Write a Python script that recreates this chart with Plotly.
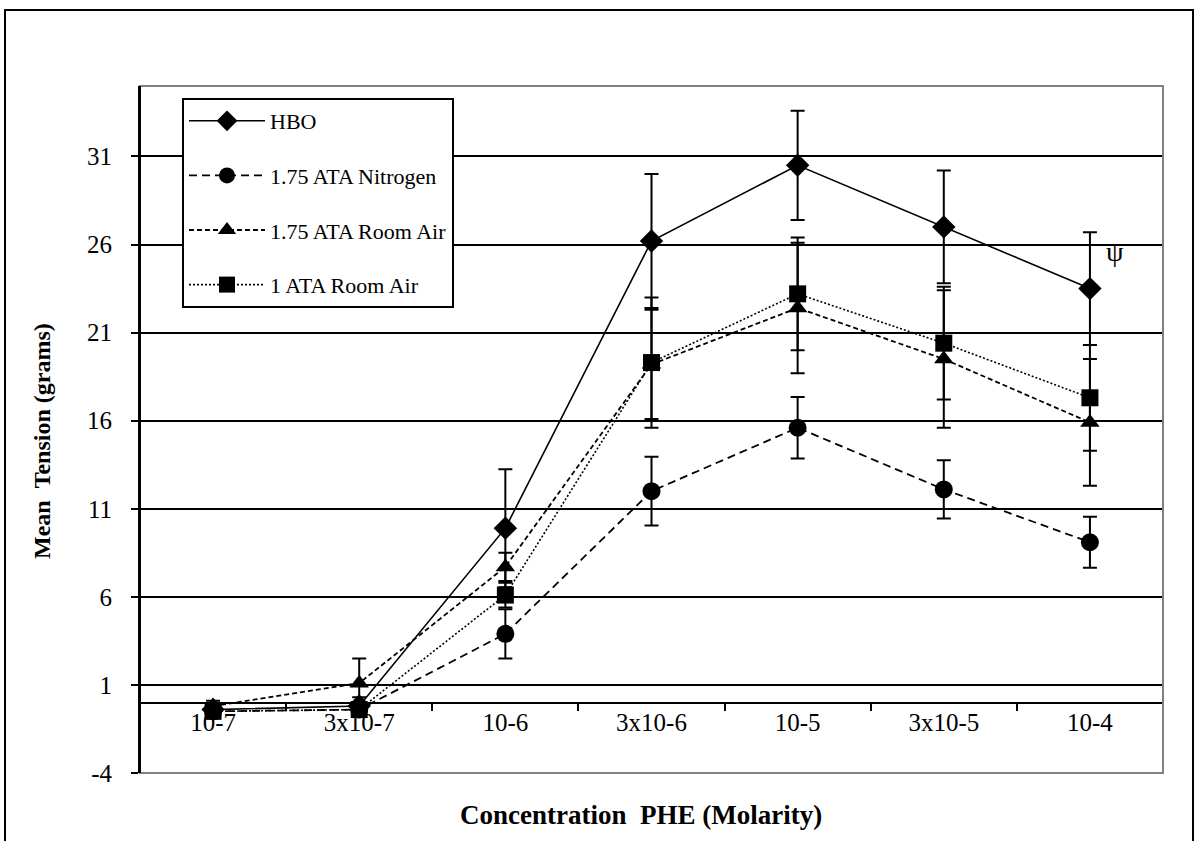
import plotly.graph_objects as go

categories = ["10-7", "3x10-7", "10-6", "3x10-6", "10-5", "3x10-5", "10-4"]

hbo = [-0.4, -0.2, 9.9, 26.2, 30.5, 27.0, 23.5]
hbo_err = [0.3, 0.5, 3.35, 3.8, 3.1, 3.2, 3.2]

nitrogen = [-0.5, -0.4, 3.9, 12.0, 15.6, 12.1, 9.1]
nitrogen_err = [0.2, 0.3, 1.4, 1.95, 1.75, 1.65, 1.45]

room_air_175 = [-0.2, 1.1, 7.7, 19.2, 22.4, 19.5, 15.9]
room_air_175_err = [0.3, 1.4, 0.8, 3.1, 3.7, 3.9, 3.6]

room_air_1 = [-0.5, -0.4, 6.1, 19.3, 23.2, 20.4, 17.3]
room_air_1_err = [0.2, 0.3, 0.7, 3.7, 3.2, 3.2, 3.0]

series_names = ["HBO", "1.75 ATA Nitrogen", "1.75 ATA Room Air", "1 ATA Room Air"]
y_ticks = [-4, 1, 6, 11, 16, 21, 26, 31]
y_tick_text = ["-4", "1", "6", "11", "16", "21", "26", "31"]
grid_values = [1, 6, 11, 16, 21, 26, 31]

FONT = "Liberation Serif, Times New Roman, serif"

# plot area geometry (pixels)
W, H = 1196, 841
L, R, T, B = 140, 1163, 86, 773
pw, ph = R - L, B - T
ymin, ymax = -4, 35

fig = go.Figure()

styles = [
    (hbo, hbo_err, "diamond", 18, "solid", 1.6),
    (nitrogen, nitrogen_err, "circle", 18, "8px,5px", 1.8),
    (room_air_175, room_air_175_err, "triangle-up", 17, "5px,3px", 1.8),
    (room_air_1, room_air_1_err, "square", 17, "2px,2px", 1.6),
]

for i, (vals, errs, sym, size, dash, lw) in enumerate(styles):
    fig.add_trace(go.Scatter(
        x=categories, y=vals, name=series_names[i], legendgroup=f"g{i}",
        mode="lines+markers",
        line=dict(color="black", width=lw, dash=dash),
        marker=dict(symbol=sym, size=size, color="black"),
        error_y=dict(type="data", array=errs, visible=True, color="black",
                     thickness=2, width=7),
    ))

fig.add_annotation(x=categories[-1], y=25.6, text="ψ", showarrow=False,
                   xshift=25, font=dict(family=FONT, size=28, color="black"))

zero_pos = (0 - ymin) / (ymax - ymin)

fig.update_layout(
    width=W, height=H,
    margin=dict(l=L, r=W - R, t=T, b=H - B, autoexpand=False),
    paper_bgcolor="white", plot_bgcolor="white",
    showlegend=True,
    legend=dict(
        x=(182 - L) / pw, y=(B - 98) / ph, xanchor="left", yanchor="top",
        bgcolor="white", bordercolor="black", borderwidth=2,
        font=dict(family=FONT, size=22, color="black"),
        traceorder="grouped", tracegroupgap=23, itemwidth=76,
    ),
    xaxis=dict(
        type="category", categoryorder="array", categoryarray=categories,
        range=[-0.5, 6.5], anchor="free", position=zero_pos,
        showline=True, linecolor="black", linewidth=2,
        ticks="outside", tickson="boundaries", ticklen=7, tickwidth=2,
        tickcolor="black", showgrid=False, zeroline=False,
        tickfont=dict(family=FONT, size=25, color="black"),
        ticklabelstandoff=-3,
    ),
    yaxis=dict(
        range=[ymin, ymax], tickvals=y_ticks, ticktext=y_tick_text,
        showline=True, linecolor="black", linewidth=2,
        ticks="outside", ticklen=7, tickwidth=2, tickcolor="black",
        showgrid=False, zeroline=False,
        tickfont=dict(family=FONT, size=25, color="black"),
        ticklabelstandoff=14,
    ),
    yaxis2=dict(
        overlaying="y", matches="y", range=[ymin, ymax], tickvals=grid_values,
        showticklabels=False, ticks="", showline=False, zeroline=False,
        showgrid=True, gridcolor="black", gridwidth=2,
    ),
)

# invisible trace to activate the grid axis
fig.add_trace(go.Scatter(x=categories, y=hbo, yaxis="y2", mode="none",
                         showlegend=False, hoverinfo="skip"))

# axis titles
fig.add_annotation(xref="paper", yref="paper", x=(641 - L) / pw, y=(B - 815) / ph,
                   text="<b>Concentration\u00a0\u00a0PHE (Molarity)</b>", showarrow=False,
                   xanchor="center", yanchor="middle",
                   font=dict(family=FONT, size=27, color="black"))
fig.add_annotation(xref="paper", yref="paper", x=(42 - L) / pw, y=(B - 441) / ph,
                   text="<b>Mean\u00a0\u00a0Tension (grams)</b>", showarrow=False, textangle=-90,
                   xanchor="center", yanchor="middle",
                   font=dict(family=FONT, size=24, color="black"))

# plot-area frame (gray) and outer chart border
fig.add_shape(type="rect", xref="paper", yref="paper", x0=0, x1=1, y0=0, y1=1,
              line=dict(color="#808080", width=2), layer="above")
fig.add_shape(type="line", xref="paper", yref="paper", x0=0, x1=0, y0=0, y1=1,
              line=dict(color="black", width=2), layer="above")
fig.add_shape(type="rect", xref="paper", yref="paper",
              x0=(5 - L) / pw, x1=(1193 - L) / pw, y0=(B - 860) / ph, y1=(B - 10) / ph,
              line=dict(color="black", width=2), layer="above")

fig.write_html("out.html")
